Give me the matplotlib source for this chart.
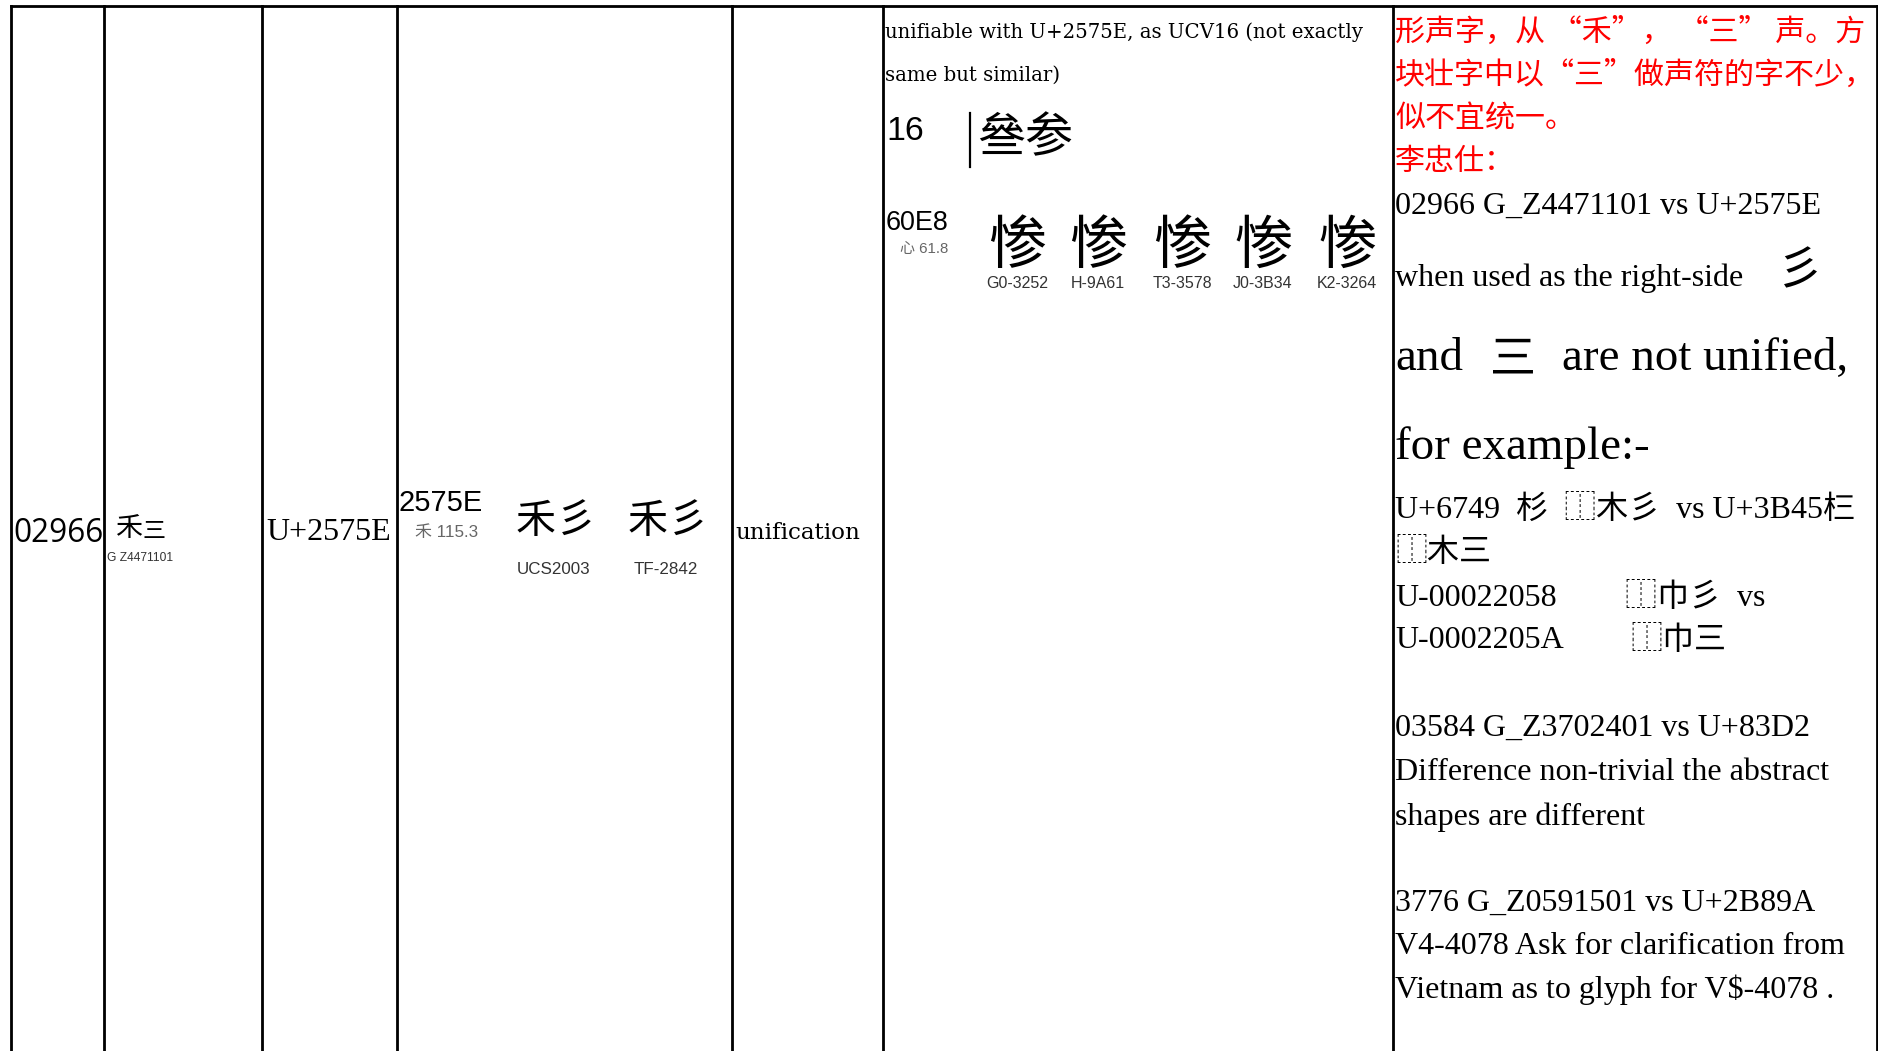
import matplotlib
matplotlib.use('Agg')
import matplotlib.pyplot as plt

# ----------------------------------------------------------------------
# table content
# ----------------------------------------------------------------------
serial = '02966'
g_parts = ['禾', '三']          # proposed glyph: 禾 + 三 (not encoded)
g_source = 'G Z4471101'
code_point = 'U+2575E'
ucs_code = '2575E'
ucs_radical = '禾 115.3'
ucs_parts = ['禾', '彡']        # U+2575E: 禾 + 彡 (no installed font has it)
ucs_labels = ['UCS2003', 'TF-2842']
ucs_fonts = ['Noto Sans CJK SC', 'Noto Sans CJK TC']
status = 'unification'

note_lines = ['unifiable with U+2575E, as UCV16 (not exactly', 'same but similar)']
ucv_no = '16'
ucv_pair = '叄参'
ref_code = '60E8'
ref_radical = '心 61.8'
ref_glyph = '惨'
ref_labels = ['G0-3252', 'H-9A61', 'T3-3578', 'J0-3B34', 'K2-3264']
ref_fonts = ['Noto Sans CJK SC', 'Noto Sans CJK TC', 'Noto Sans CJK TC',
             'Noto Sans CJK JP', 'Noto Sans CJK KR']

red_lines = ['形声字，从 “禾”， “三” 声。方', '块壮字中以“三”做声符的字不少，',
             '似不宜统一。', '李忠仕：']
comment_head = '02966 G_Z4471101 vs U+2575E'
comment_side = 'when used as the right-side'
comment_and = ['and', '三', 'are not unified,']
comment_example = 'for example:-'
comment_rest = ['U+6749  杉  ⿰木彡  vs U+3B45' + chr(0x3B45),
                '⿰木三',
                'U-00022058', '⿰巾彡  vs',
                'U-0002205A', '⿰巾三',
                '03584 G_Z3702401 vs U+83D2',
                'Difference non-trivial the abstract',
                'shapes are different',
                '3776 G_Z0591501 vs U+2B89A',
                'V4-4078 Ask for clarification from',
                'Vietnam as to glyph for V$-4078 .']

# ----------------------------------------------------------------------
# layout (pixel coordinates, y downwards)
# ----------------------------------------------------------------------
W, H = 1878, 1051
col_edges = [11, 104, 262, 397, 732, 883, 1393, 1877]
top = 6
SERIF = ['Liberation Serif', 'Noto Sans CJK SC']
CAMB = ['DejaVu Serif', 'Noto Sans CJK SC']
SANS = ['Liberation Sans', 'Noto Sans CJK SC']
CJK = ['Noto Sans CJK SC', 'DejaVu Sans']

fig = plt.figure(figsize=(W / 72, H / 72), dpi=72)
ax = fig.add_axes([0, 0, 1, 1])
ax.set_xlim(0, W)
ax.set_ylim(H, 0)
ax.axis('off')

for x in col_edges:
    ax.plot([x, x], [top, H], color='black', lw=2.8, solid_capstyle='projecting')
ax.plot([col_edges[0], col_edges[-1]], [top, top], color='black', lw=2.8,
        solid_capstyle='projecting')

def txt(x, y, s, size, family, color='black', ha='left', va='center'):
    ax.text(x, y, s, fontsize=size, family=family, color=color, ha=ha, va=va,
            parse_math=False)

# columns 1-5
txt(13, 533, serial, 31.5, ['Open Sans'])
txt(143, 528, g_parts[0], 27, CJK, ha='right')
txt(143, 531, g_parts[1], 23, CJK)
txt(107, 558, g_source, 12, SANS, color='#333333')
txt(266, 533, code_point, 32, SERIF)
txt(399, 503, ucs_code, 29, SANS)
txt(415, 532, ucs_radical, 17, SANS, color='#666666')
for cx, lab, fam in zip([554, 666], ucs_labels, ucs_fonts):
    txt(cx + 2, 522, ucs_parts[0], 40, [fam, 'DejaVu Sans'], ha='right')
    txt(cx + 2, 522, ucs_parts[1], 40, [fam, 'DejaVu Sans'], ha='left')
    txt(cx, 569, lab, 17, SANS, color='#333333', ha='center')
txt(735, 533, status, 23, CAMB)

# column 6
for y, line in zip([32, 75], note_lines):
    txt(885, y, line, 19.7, CAMB)
txt(886, 131, ucv_no, 34, SANS)
ax.plot([970, 970], [113, 167], color='black', lw=2.2)
txt(977, 139, ucv_pair, 48, CJK)
txt(886, 223, ref_code, 27, SANS)
txt(900, 249, ref_radical, 15, SANS, color='#666666')
for cx, lab, fam in zip([1017, 1098, 1182, 1263, 1347], ref_labels, ref_fonts):
    txt(cx, 247, ref_glyph, 58, [fam, 'DejaVu Sans'], ha='center')
    txt(cx, 283, lab, 16, SANS, color='#333333', ha='center')

# column 7 (comments)
for y, line in zip([32, 75, 119, 162], red_lines):
    txt(1395, y, line, 30, CJK, color='red')
txt(1395, 206, comment_head, 32, SERIF)
txt(1395, 278, comment_side, 32, SERIF)
txt(1800, 271, '彡', 46, CJK, ha='center')
txt(1395, 359, comment_and[0], 47, SERIF)
txt(1513, 359, comment_and[1], 46, CJK, ha='center')
txt(1562, 359, comment_and[2], 47, SERIF)
txt(1395, 448, comment_example, 47, SERIF)
rest_pos = [(1395, 510), (1395, 553), (1395, 598), (1625, 598), (1395, 641),
            (1630, 641), (1395, 728), (1395, 772), (1395, 817), (1395, 903),
            (1395, 947), (1395, 990)]
for (x, y), line in zip(rest_pos, comment_rest):
    txt(x, y, line, 32, SERIF)

fig.savefig('out.png', dpi=72)
